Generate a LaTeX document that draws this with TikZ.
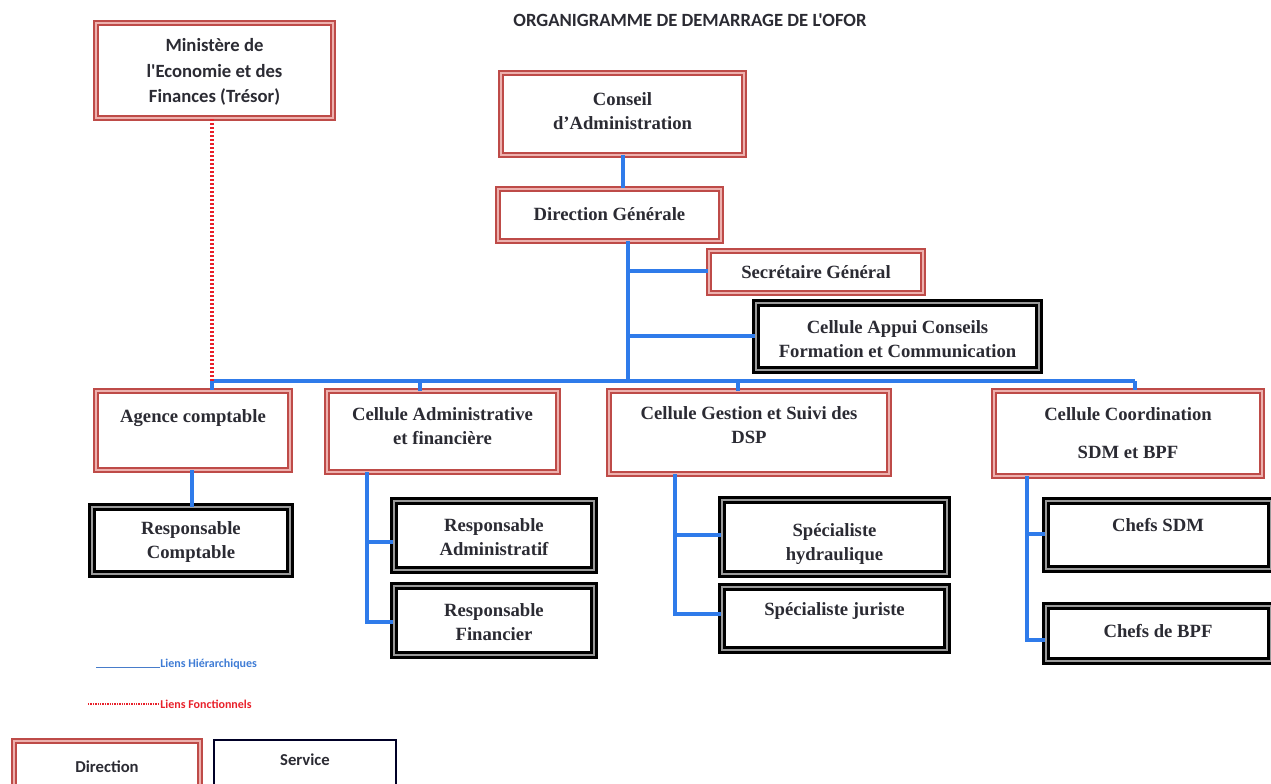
\documentclass[tikz,border=0pt]{standalone}
\usepackage{fontspec}
\setmainfont{Liberation Serif}
\newfontfamily\calib{Carlito}
\usetikzlibrary{fit}
\definecolor{dred}{HTML}{BE4B48}
\definecolor{pband}{HTML}{EDB1AE}
\definecolor{gband}{HTML}{9A9A9A}
\definecolor{lblue}{HTML}{2F7BEA}
\definecolor{fred}{HTML}{E8202A}
\definecolor{txtc}{HTML}{2B2B33}
\tikzset{
  dirbox/.style={draw=dred, double=pband, double distance=2pt, line width=1.6pt, inner sep=0pt, fill=white},
  servbox/.style={draw=black, double=gband, double distance=1.6pt, line width=1.9pt, inner sep=0pt, fill=white},
  lgdir/.style={draw=dred, double=pband, double distance=1.4pt, line width=1.2pt, inner sep=0pt},
  lgserv/.style={draw=black!85!blue, line width=1.8pt, inner sep=0pt},
  hier/.style={draw=lblue, line width=2.6pt},
  fonc/.style={draw=fred, line width=2.6pt, dash pattern=on 1.5pt off 1.5pt},
  stxt/.style={font=\bfseries\fontsize{14}{17.5}\selectfont, text=txtc, align=center, inner sep=0pt},
  ctxt/.style={font=\calib\bfseries\fontsize{14}{19}\selectfont, text=txtc, align=center, inner sep=0pt},
}
\begin{document}
\begin{tikzpicture}[x=0.75pt,y=-0.75pt]
\useasboundingbox (0,0) rectangle (1271,783);
% title
\node[font=\calib\bfseries\fontsize{14}{16}\selectfont, text=txtc] (title) at (690,20) {ORGANIGRAMME DE DEMARRAGE DE L'OFOR};

% boxes
\node[dirbox, fit={(96,23)(333,118)}] (min) {};
\node[dirbox, fit={(501,73)(744,155)}] (ca) {};
\node[dirbox, fit={(498,189)(721,241)}] (dg) {};
\node[dirbox, fit={(709,251)(923,293)}] (sg) {};
\node[servbox, fit={(756,303)(1039,370)}] (cap) {};
\node[dirbox, fit={(96,391)(290,470)}] (ag) {};
\node[dirbox, fit={(327,391)(558,472)}] (caf) {};
\node[dirbox, fit={(609,391)(889,474)}] (cgs) {};
\node[dirbox, fit={(994,391)(1262,476)}] (cc) {};
\node[servbox, fit={(92,507)(290,574)}] (rc) {};
\node[servbox, fit={(394,501)(594,570)}] (ra) {};
\node[servbox, fit={(394,586)(594,655)}] (rf) {};
\node[servbox, fit={(722,500)(947,574)}] (sh) {};
\node[servbox, fit={(722,587)(947,650)}] (sj) {};
\node[servbox, fit={(1046,501)(1271,569)}] (csdm) {};
\node[servbox, fit={(1046,606)(1271,661)}] (cbpf) {};

% texts
\node[ctxt] (tmin) at (214.5,72) {Ministère de\\l'Economie et des\\Finances (Trésor)};
\node[stxt] (tca) at (622.5,111) {Conseil\\d'Administration};
\node[stxt] (tdg) at (609.5,214) {Direction Générale};
\node[stxt] (tsg) at (816,272) {Secrétaire Général};
\node[stxt] (tcap) at (897.5,339) {Cellule Appui Conseils\\Formation et Communication};
\node[stxt] (tag) at (193,418) {Agence comptable};
\node[stxt] (tcaf) at (442.5,426) {Cellule Administrative\\et financière};
\node[stxt] (tcgs) at (749,425) {Cellule Gestion et Suivi des\\DSP};
\node[stxt] (tcc1) at (1128,414) {Cellule Coordination};
\node[stxt] (tcc2) at (1128,452) {SDM et BPF};
\node[stxt] (trc) at (191,542) {Responsable\\Comptable};
\node[stxt] (tra) at (494,537) {Responsable\\Administratif};
\node[stxt] (trf) at (494,622) {Responsable\\Financier};
\node[stxt] (tsh) at (834.5,544) {Spécialiste\\hydraulique};
\node[stxt] (tsj) at (834.5,611) {Spécialiste juriste};
\node[stxt] (tcsdm) at (1158,525) {Chefs SDM};
\node[stxt] (tcbpf) at (1158,631) {Chefs de BPF};

% connectors
\coordinate (bus) at (628,381);
\coordinate (busL) at (212,381);
\coordinate (busR) at (1135,381);
\coordinate (jsg) at (628,271);
\coordinate (jcap) at (628,336);
\coordinate (jca) at (623,155);
\draw[hier] (jca) -- (jca |- dg.north);
\draw[hier] (628,241) -- (bus);
\draw[hier] (jsg) -- (sg.west |- jsg);
\draw[hier] (jcap) -- (cap.west |- jcap);
\draw[hier] (busL) -- (busR);
\draw[hier] (busL) -- (busL |- ag.north);
\draw[hier] (420,381) -- (420,391);
\draw[hier] (738,381) -- (738,391);
\draw[hier] (busR) -- (busR |- cc.north);
\draw[hier] (192,470) -- (192,507);
% admin
\coordinate (ja) at (367,542);
\coordinate (jf) at (367,622);
\draw[hier] (367,472) -- (jf) -- (rf.west |- jf);
\draw[hier] (ja) -- (ra.west |- ja);
% gestion
\coordinate (jh) at (675,535);
\coordinate (jj) at (675,614);
\draw[hier] (675,474) -- (jj) -- (sj.west |- jj);
\draw[hier] (jh) -- (sh.west |- jh);
% coordination
\coordinate (js) at (1027,534);
\coordinate (jb) at (1027,640);
\draw[hier] (1027,476) -- (jb) -- (cbpf.west |- jb);
\draw[hier] (js) -- (csdm.west |- js);
% functional link
\draw[fonc] (min.south -| busL) -- (busL);

% legend
\coordinate (lh1) at (96,667);
\coordinate (lh2) at (160,667);
\draw[draw=lblue!70!gray, line width=0.6pt] (lh1) -- (lh2);
\node[anchor=west, font=\calib\bfseries\fontsize{9}{10}\selectfont, text=lblue!80!gray, inner sep=0pt] (lgh) at (160,664) {Liens Hiérarchiques};
\coordinate (lf1) at (88,704);
\coordinate (lf2) at (160,704);
\draw[draw=fred, line width=0.8pt, dash pattern=on 1pt off 0.8pt] (lf1) -- (lf2);
\node[anchor=west, font=\calib\bfseries\fontsize{9}{10}\selectfont, text=fred, inner sep=0pt] (lgf) at (160,704) {Liens Fonctionnels};
\node[lgdir, fit={(14,741)(200,790)}] (ldir) {};
\node[lgserv, fit={(214,740)(396,790)}] (lserv) {};
\node[ctxt, font=\calib\bfseries\fontsize{12.5}{14}\selectfont] (tldir) at (107,767) {Direction};
\node[ctxt, font=\calib\bfseries\fontsize{12.5}{14}\selectfont] (tlserv) at (305,760) {Service};
\end{tikzpicture}
\end{document}
